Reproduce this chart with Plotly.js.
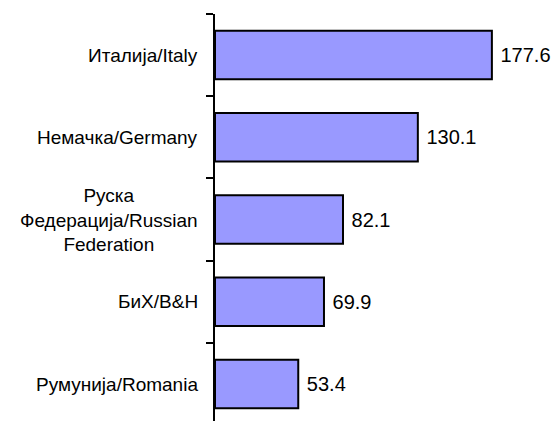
<!DOCTYPE html>
<html>
<head>
<meta charset="utf-8">
<script src="https://cdn.plot.ly/plotly-3.0.1.min.js"></script>
<style>html,body{margin:0;padding:0;background:#fff;}#chart{width:558px;height:421px;}</style>
</head>
<body>
<div id="chart"></div>
<script>
// Data (top to bottom)
const categories = ["Италија/Italy", "Немачка/Germany", "Руска Федерација/Russian Federation", "БиХ/B&H", "Румунија/Romania"];
const labels = ["Италија/Italy", "Немачка/Germany", "Руска<br>Федерација/Russian<br>Federation", "БиХ/B&H", "Румунија/Romania"];
const values = [177.6, 130.1, 82.1, 69.9, 53.4];

const FONT = "Liberation Sans, Arial, sans-serif";

const trace = {
  type: "bar",
  orientation: "h",
  y: categories,
  x: values,
  marker: { color: "#9999FF", line: { color: "#000000", width: 2 } },
  texttemplate: "\u00a0%{x:.1f}",
  textposition: "outside",
  constraintext: "none",
  cliponaxis: false,
  textfont: { family: FONT, size: 20, color: "#000000" },
  hoverinfo: "none"
};

const annotations = categories.map((c, i) => ({
  xref: "paper", x: 0, xanchor: "right", xshift: -15,
  yref: "y", y: c, yanchor: "middle",
  text: labels[i], align: "center", showarrow: false,
  font: { family: FONT, size: 19, color: "#000000" }
}));

const layout = {
  width: 558, height: 421,
  margin: { l: 215, r: 0, t: 14, b: 0, pad: 0 },
  paper_bgcolor: "#ffffff", plot_bgcolor: "#ffffff",
  showlegend: false,
  bargap: 0.41,
  xaxis: { range: [0, 220], showgrid: false, zeroline: false, showline: false, showticklabels: false, ticks: "" },
  yaxis: {
    type: "category", categoryorder: "array", categoryarray: categories,
    range: [4.45, -0.5],
    showline: true, linecolor: "#000000", linewidth: 2,
    ticks: "outside", tickson: "boundaries", ticklen: 7, tickwidth: 2, tickcolor: "#000000",
    showticklabels: false, showgrid: false, zeroline: false
  },
  annotations: annotations
};

Plotly.newPlot("chart", [trace], layout, { staticPlot: true, displayModeBar: false });
</script>
</body>
</html>
